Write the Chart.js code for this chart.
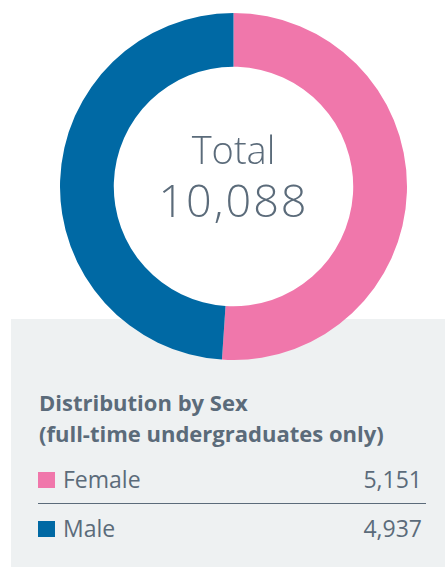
<!DOCTYPE html>
<html>
<head>
  <title>Distribution by Sex</title>
  <script src="https://cdn.jsdelivr.net/npm/chart.js"></script>
  <style>
    body { margin: 0; width: 445px; height: 567px; background: #fff; position: relative; overflow: hidden;
           font-family: "Open Sans", sans-serif; color: #5b6b7a; }
    #panel { position: absolute; left: 11px; top: 319px; width: 434px; height: 248px; background: #eef1f2; }
    #wrap { position: absolute; left: 60px; top: 13px; width: 347px; height: 347px; }
    .center { position: absolute; left: 0; width: 467px; text-align: center; line-height: 1; font-weight: 300; }
    .title { position: absolute; left: 39px; font-weight: 700; font-size: 22px; line-height: 1; }
    .row { position: absolute; left: 38px; width: 384px; font-size: 23px; line-height: 1; }
    .row .sw { position: absolute; left: 0; width: 17px; height: 16px; }
    .row .lab { position: absolute; left: 25px; top: 0; }
    .row .val { position: absolute; right: 0; top: 0; }
    #rule { position: absolute; left: 38px; top: 503px; width: 388px; height: 1px; background: #5b6b7a; }
  </style>
</head>
<body>
  <div id="panel"></div>
  <div id="wrap"><canvas id="sexChart" width="347" height="347"></canvas></div>
  <div class="center" id="totLabel" style="top:130px;font-size:38px;">Total</div>
  <div class="center" id="totValue" style="top:177px;font-size:45px;letter-spacing:2px;"></div>
  <div class="title" style="top:391px;">Distribution by Sex</div>
  <div class="title" style="top:422px;">(full-time undergraduates only)</div>
  <div id="rows"></div>
  <div id="rule"></div>

  <script>
    const labels = ['Female', 'Male'];
    const counts = [5151, 4937];
    const colors = ['#f077ab', '#0069a4'];

    const total = counts.reduce((a, b) => a + b, 0);
    document.getElementById('totValue').textContent = total.toLocaleString('en-US');

    // legend rows built from the same arrays
    const rowTops = [468, 517];
    const rows = document.getElementById('rows');
    labels.forEach((name, i) => {
      const r = document.createElement('div');
      r.className = 'row';
      r.style.top = rowTops[i] + 'px';
      r.innerHTML = '<div class="sw" style="top:4px;background:' + colors[i] + '"></div>' +
        '<span class="lab">' + name + '</span><span class="val">' + counts[i].toLocaleString('en-US') + '</span>';
      rows.appendChild(r);
    });

    const ctx = document.getElementById('sexChart').getContext('2d');
    new Chart(ctx, {
      type: 'doughnut',
      data: {
        labels: labels,
        datasets: [{
          data: counts,
          backgroundColor: colors,
          borderWidth: 0
        }]
      },
      options: {
        responsive: false,
        animation: false,
        cutout: '69%',
        layout: { padding: 0 },
        plugins: { legend: { display: false }, tooltip: { enabled: false } }
      }
    });
  </script>
</body>
</html>
